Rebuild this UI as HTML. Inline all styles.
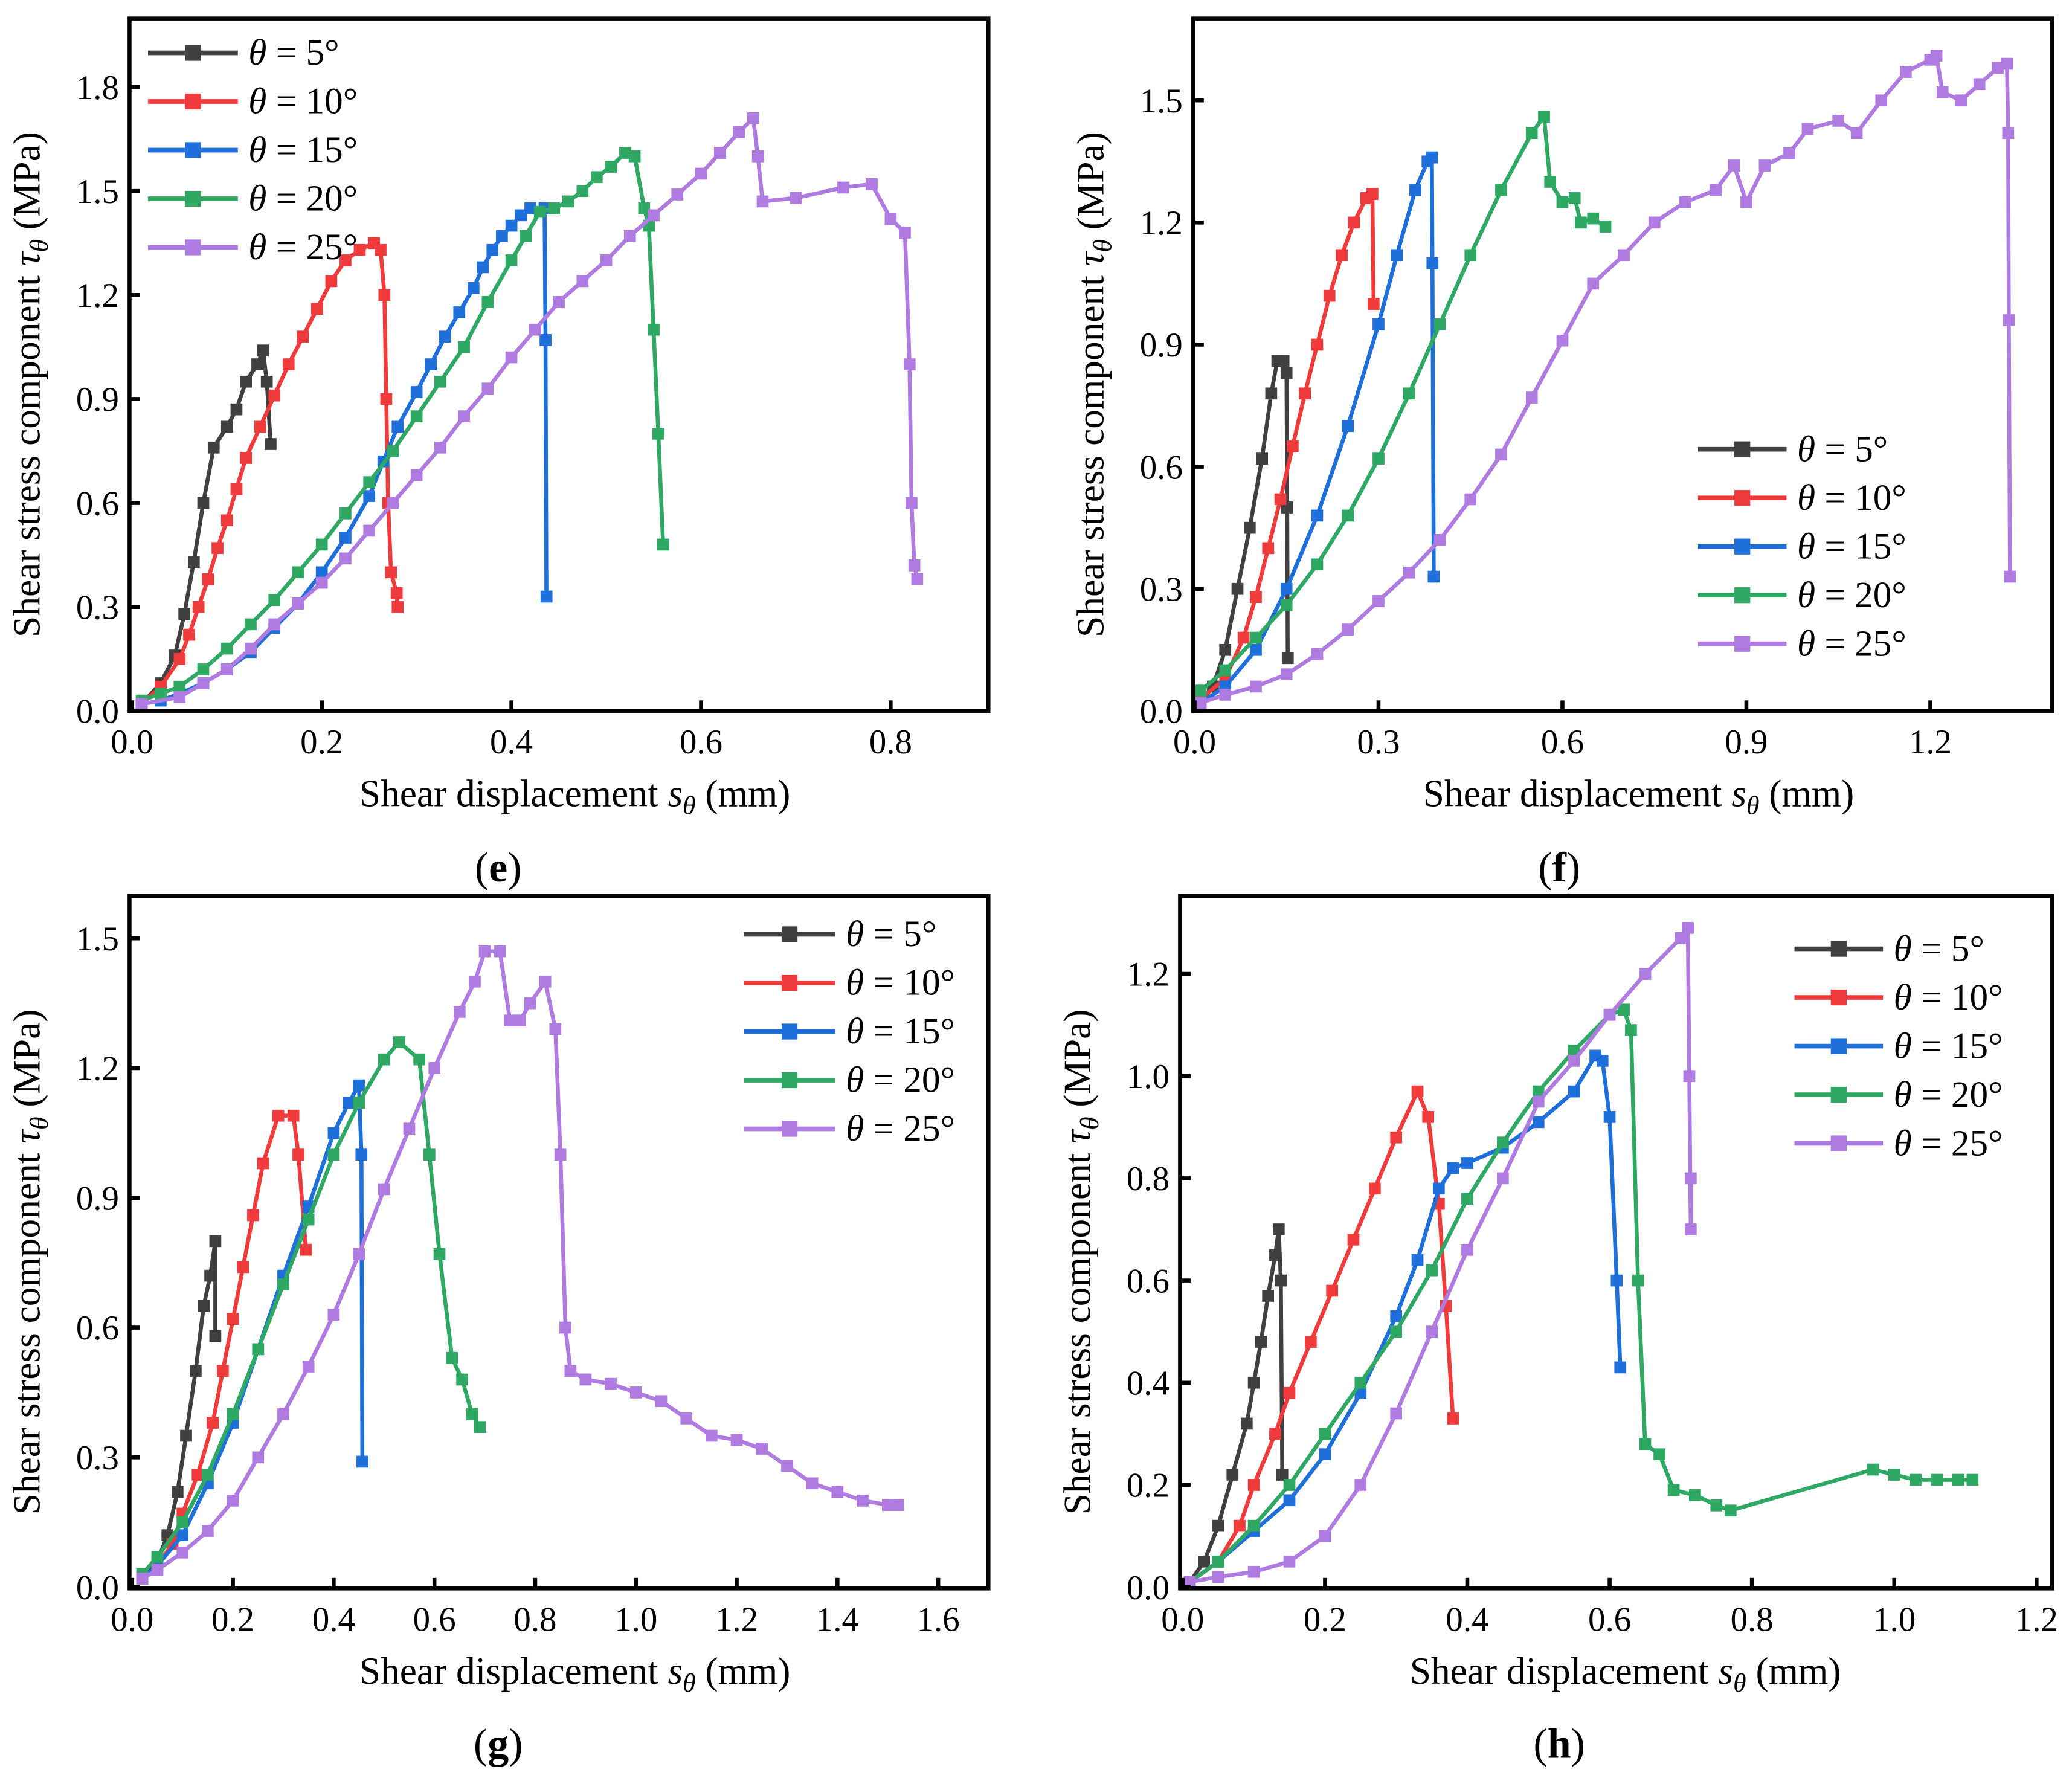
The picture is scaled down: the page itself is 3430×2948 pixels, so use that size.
<!DOCTYPE html>
<html><head><meta charset="utf-8"><style>
html,body{margin:0;padding:0;background:#fff;}
svg{display:block;font-family:"Liberation Serif",serif;}
</style></head><body>
<svg id="fig" width="3430" height="2948" viewBox="0 0 1568 1347.7" xmlns="http://www.w3.org/2000/svg"></svg>
<script>
// ---------- data ----------
const colors = ["#404040","#ef3b3b","#1e6fd9","#2fa863","#b07be0"];
const legendLabels = ["5°","10°","15°","20°","25°"];
const e_xticks=[0,0.2,0.4,0.6,0.8], e_yticks=[0,0.3,0.6,0.9,1.2,1.5,1.8];
const f_xticks=[0,0.3,0.6,0.9,1.2], f_yticks=[0,0.3,0.6,0.9,1.2,1.5];
const g_xticks=[0,0.2,0.4,0.6,0.8,1.0,1.2,1.4,1.6], g_yticks=[0,0.3,0.6,0.9,1.2,1.5];
const h_xticks=[0,0.2,0.4,0.6,0.8,1.0,1.2], h_yticks=[0,0.2,0.4,0.6,0.8,1.0,1.2];

const e5=[[0.01,0.02],[0.03,0.08],[0.045,0.16],[0.055,0.28],[0.065,0.43],[0.075,0.6],[0.086,0.76],[0.1,0.82],[0.11,0.87],[0.12,0.95],[0.132,1.0],[0.138,1.04],[0.142,0.95],[0.146,0.77]];
const e10=[[0.01,0.02],[0.03,0.07],[0.05,0.15],[0.06,0.22],[0.07,0.3],[0.08,0.38],[0.09,0.47],[0.1,0.55],[0.11,0.64],[0.12,0.73],[0.135,0.82],[0.15,0.91],[0.165,1.0],[0.18,1.08],[0.195,1.16],[0.21,1.24],[0.225,1.3],[0.24,1.33],[0.255,1.35],[0.262,1.33],[0.266,1.2],[0.268,0.9],[0.27,0.6],[0.273,0.4],[0.279,0.34],[0.28,0.3]];
const e15=[[0.01,0.02],[0.03,0.03],[0.05,0.05],[0.075,0.08],[0.1,0.12],[0.125,0.17],[0.15,0.24],[0.175,0.31],[0.2,0.4],[0.225,0.5],[0.25,0.62],[0.265,0.72],[0.28,0.82],[0.3,0.92],[0.315,1.0],[0.33,1.08],[0.345,1.15],[0.36,1.22],[0.37,1.28],[0.38,1.33],[0.39,1.37],[0.4,1.4],[0.41,1.43],[0.42,1.45],[0.435,1.45],[0.436,1.07],[0.437,0.33]];
const e20=[[0.01,0.03],[0.03,0.05],[0.05,0.07],[0.075,0.12],[0.1,0.18],[0.125,0.25],[0.15,0.32],[0.175,0.4],[0.2,0.48],[0.225,0.57],[0.25,0.66],[0.275,0.75],[0.3,0.85],[0.325,0.95],[0.35,1.05],[0.375,1.18],[0.4,1.3],[0.415,1.37],[0.43,1.44],[0.445,1.45],[0.46,1.47],[0.475,1.5],[0.49,1.54],[0.505,1.57],[0.52,1.61],[0.53,1.6],[0.54,1.45],[0.545,1.4],[0.55,1.1],[0.555,0.8],[0.56,0.48]];
const e25=[[0.01,0.02],[0.05,0.04],[0.075,0.08],[0.1,0.12],[0.125,0.18],[0.15,0.25],[0.175,0.31],[0.2,0.37],[0.225,0.44],[0.25,0.52],[0.275,0.6],[0.3,0.68],[0.325,0.76],[0.35,0.85],[0.375,0.93],[0.4,1.02],[0.425,1.1],[0.45,1.18],[0.475,1.24],[0.5,1.3],[0.525,1.37],[0.55,1.43],[0.575,1.49],[0.6,1.55],[0.62,1.61],[0.64,1.67],[0.655,1.71],[0.66,1.6],[0.665,1.47],[0.7,1.48],[0.75,1.51],[0.78,1.52],[0.8,1.42],[0.815,1.38],[0.82,1.0],[0.822,0.6],[0.825,0.42],[0.828,0.38]];

const f5=[[0.01,0.02],[0.03,0.06],[0.05,0.15],[0.07,0.3],[0.09,0.45],[0.11,0.62],[0.125,0.78],[0.135,0.86],[0.145,0.86],[0.15,0.83],[0.151,0.5],[0.152,0.13]];
const f10=[[0.01,0.03],[0.05,0.08],[0.08,0.18],[0.1,0.28],[0.12,0.4],[0.14,0.52],[0.16,0.65],[0.18,0.78],[0.2,0.9],[0.22,1.02],[0.24,1.12],[0.26,1.2],[0.28,1.26],[0.29,1.27],[0.292,1.0]];
const f15=[[0.01,0.02],[0.05,0.06],[0.1,0.15],[0.15,0.3],[0.2,0.48],[0.25,0.7],[0.3,0.95],[0.33,1.12],[0.36,1.28],[0.38,1.35],[0.387,1.36],[0.388,1.1],[0.39,0.33]];
const f20=[[0.01,0.05],[0.05,0.1],[0.1,0.18],[0.15,0.26],[0.2,0.36],[0.25,0.48],[0.3,0.62],[0.35,0.78],[0.4,0.95],[0.45,1.12],[0.5,1.28],[0.55,1.42],[0.57,1.46],[0.58,1.3],[0.6,1.25],[0.62,1.26],[0.63,1.2],[0.65,1.21],[0.67,1.19]];
const f25=[[0.01,0.02],[0.05,0.04],[0.1,0.06],[0.15,0.09],[0.2,0.14],[0.25,0.2],[0.3,0.27],[0.35,0.34],[0.4,0.42],[0.45,0.52],[0.5,0.63],[0.55,0.77],[0.6,0.91],[0.65,1.05],[0.7,1.12],[0.75,1.2],[0.8,1.25],[0.85,1.28],[0.88,1.34],[0.9,1.25],[0.93,1.34],[0.97,1.37],[1.0,1.43],[1.05,1.45],[1.08,1.42],[1.12,1.5],[1.16,1.57],[1.2,1.6],[1.21,1.61],[1.22,1.52],[1.25,1.5],[1.28,1.54],[1.31,1.58],[1.325,1.59],[1.327,1.42],[1.328,0.96],[1.33,0.33]];

const g5=[[0.02,0.02],[0.05,0.06],[0.07,0.12],[0.09,0.22],[0.107,0.35],[0.126,0.5],[0.142,0.65],[0.155,0.72],[0.165,0.8],[0.165,0.58]];
const g10=[[0.02,0.02],[0.05,0.05],[0.08,0.1],[0.1,0.17],[0.13,0.26],[0.16,0.38],[0.18,0.5],[0.2,0.62],[0.22,0.74],[0.24,0.86],[0.26,0.98],[0.29,1.09],[0.32,1.09],[0.33,1.0],[0.345,0.78]];
const g15=[[0.02,0.02],[0.05,0.05],[0.1,0.12],[0.15,0.24],[0.2,0.38],[0.25,0.55],[0.3,0.72],[0.35,0.88],[0.4,1.05],[0.43,1.12],[0.45,1.16],[0.455,1.0],[0.457,0.29]];
const g20=[[0.02,0.03],[0.05,0.07],[0.1,0.15],[0.15,0.26],[0.2,0.4],[0.25,0.55],[0.3,0.7],[0.35,0.85],[0.4,1.0],[0.45,1.12],[0.5,1.22],[0.53,1.26],[0.57,1.22],[0.59,1.0],[0.61,0.77],[0.635,0.53],[0.655,0.48],[0.675,0.4],[0.69,0.37]];
const g25=[[0.02,0.02],[0.05,0.04],[0.1,0.08],[0.15,0.13],[0.2,0.2],[0.25,0.3],[0.3,0.4],[0.35,0.51],[0.4,0.63],[0.45,0.77],[0.5,0.92],[0.55,1.06],[0.6,1.2],[0.65,1.33],[0.68,1.4],[0.7,1.47],[0.73,1.47],[0.75,1.31],[0.77,1.31],[0.79,1.35],[0.82,1.4],[0.84,1.29],[0.85,1.0],[0.86,0.6],[0.87,0.5],[0.9,0.48],[0.95,0.47],[1.0,0.45],[1.05,0.43],[1.1,0.39],[1.15,0.35],[1.2,0.34],[1.25,0.32],[1.3,0.28],[1.35,0.24],[1.4,0.22],[1.45,0.2],[1.5,0.19],[1.52,0.19]];

const h5=[[0.01,0.01],[0.03,0.05],[0.05,0.12],[0.07,0.22],[0.09,0.32],[0.1,0.4],[0.11,0.48],[0.12,0.57],[0.13,0.65],[0.135,0.7],[0.138,0.6],[0.14,0.22]];
const h10=[[0.01,0.01],[0.05,0.05],[0.08,0.12],[0.1,0.2],[0.13,0.3],[0.15,0.38],[0.18,0.48],[0.21,0.58],[0.24,0.68],[0.27,0.78],[0.3,0.88],[0.33,0.97],[0.345,0.92],[0.36,0.75],[0.37,0.55],[0.38,0.33]];
const h15=[[0.01,0.01],[0.05,0.05],[0.1,0.11],[0.15,0.17],[0.2,0.26],[0.25,0.38],[0.3,0.53],[0.33,0.64],[0.36,0.78],[0.38,0.82],[0.4,0.83],[0.45,0.86],[0.5,0.91],[0.55,0.97],[0.58,1.04],[0.59,1.03],[0.6,0.92],[0.61,0.6],[0.615,0.43]];
const h20=[[0.01,0.01],[0.05,0.05],[0.1,0.12],[0.15,0.2],[0.2,0.3],[0.25,0.4],[0.3,0.5],[0.35,0.62],[0.4,0.76],[0.45,0.87],[0.5,0.97],[0.55,1.05],[0.6,1.12],[0.62,1.13],[0.63,1.09],[0.64,0.6],[0.65,0.28],[0.67,0.26],[0.69,0.19],[0.72,0.18],[0.75,0.16],[0.77,0.15],[0.97,0.23],[1.0,0.22],[1.03,0.21],[1.06,0.21],[1.09,0.21],[1.11,0.21]];
const h25=[[0.01,0.01],[0.05,0.02],[0.1,0.03],[0.15,0.05],[0.2,0.1],[0.25,0.2],[0.3,0.34],[0.35,0.5],[0.4,0.66],[0.45,0.8],[0.5,0.95],[0.55,1.03],[0.6,1.12],[0.65,1.2],[0.7,1.27],[0.71,1.29],[0.712,1.0],[0.714,0.7],[0.714,0.8]];

// ---------- drawing ----------
const NS="http://www.w3.org/2000/svg";
const svg=document.getElementById('fig');
function mk(tag,attrs,parent){const el=document.createElementNS(NS,tag);for(const k in attrs)el.setAttribute(k,attrs[k]);(parent||svg).appendChild(el);return el;}

const panels=[
 {id:"e",box:[98,14,748,538],x0:100,xs:717.5,y0:538,ys:262.3,xt:e_xticks,yt:e_yticks,series:[e5,e10,e15,e20,e25],leg:[112,180,188,40],lab:[377,657],xc:435},
 {id:"f",box:[903,14,1553,538],x0:904,xs:464,y0:538,ys:308,xt:f_xticks,yt:f_yticks,series:[f5,f10,f15,f20,f25],leg:[1285,1352,1360,340],lab:[1180,657],xc:1240},
 {id:"g",box:[98,678,748,1202],x0:100,xs:381.25,y0:1201,ys:327.3,xt:g_xticks,yt:g_yticks,series:[g5,g10,g15,g20,g25],leg:[563,632,640,707],lab:[377,1320],xc:435},
 {id:"h",box:[893,678,1553,1202],x0:895,xs:538.5,y0:1201,ys:386.7,xt:h_xticks,yt:h_yticks,series:[h5,h10,h15,h20,h25],leg:[1358,1425,1433,718],lab:[1180,1320],xc:1230}
];

panels.forEach(p=>{
  const g=mk('g',{});
  
  
  const X=v=>p.x0+v*p.xs, Y=v=>p.y0-v*p.ys;
  const [L,T,R,B]=p.box;
  const clipId='clip'+p.id;
  const cp=mk('clipPath',{id:clipId},g);mk('rect',{x:L,y:T,width:R-L,height:B-T},cp);
  p.series.forEach((s,i)=>{
    const sg=mk('g',{'clip-path':'url(#'+clipId+')'},g);
    
    
    const pts=s.map(d=>X(d[0]).toFixed(1)+','+Y(d[1]).toFixed(1)).join(' ');
    mk('polyline',{points:pts,fill:'none',stroke:colors[i],'stroke-width':3,'stroke-linejoin':'round'},sg);
    s.forEach(d=>{
      const r=mk('rect',{x:X(d[0])-4.5,y:Y(d[1])-4.5,width:9,height:9,fill:colors[i]},sg);
      
      
    });
  });
  const fr=mk('rect',{x:L,y:T,width:R-L,height:B-T,fill:'none',stroke:'#000','stroke-width':3},g);
  
  
  p.xt.forEach(v=>{
    mk('line',{x1:X(v),x2:X(v),y1:B,y2:B-8,stroke:'#000','stroke-width':3},g);
    const t=mk('text',{x:X(v),y:B+32,'font-size':26,'text-anchor':'middle'},g);
    t.textContent=v.toFixed(1);
    
    
  });
  p.yt.forEach(v=>{
    mk('line',{x1:L,x2:L+8,y1:Y(v),y2:Y(v),stroke:'#000','stroke-width':3},g);
    const t=mk('text',{x:L-8,y:Y(v)+9,'font-size':26,'text-anchor':'end'},g);
    t.textContent=v.toFixed(1);
    
    
  });
  const xt=mk('text',{x:p.xc,y:B+72,'font-size':29,'text-anchor':'middle'},g);
  xt.innerHTML='Shear displacement <tspan font-style="italic">s</tspan><tspan font-style="italic" font-size="20" dy="6">θ</tspan><tspan dy="-6"> (mm)</tspan>';
  
  
  const cy=(T+B)/2+15;
  const yx=L-68;
  const yt=mk('text',{x:yx,y:cy,'font-size':29,'text-anchor':'middle',transform:'rotate(-90 '+yx+' '+cy+')'},g);
  yt.innerHTML='Shear stress component <tspan font-style="italic">τ</tspan><tspan font-style="italic" font-size="20" dy="6">θ</tspan><tspan dy="-6"> (MPa)</tspan>';
  
  
  const [lx1,lx2,tx,ly]=p.leg;
  const lg=mk('g',{},g);
  
  
  legendLabels.forEach((lab,i)=>{
    const yy=ly+i*36.8;
    const e=mk('g',{},lg);
    
    
    mk('line',{x1:lx1,x2:lx2,y1:yy,y2:yy,stroke:colors[i],'stroke-width':3.5},e);
    mk('rect',{x:(lx1+lx2)/2-6,y:yy-6,width:12,height:12,fill:colors[i]},e);
    const t=mk('text',{x:tx,y:yy+9,'font-size':28},e);
    t.innerHTML='<tspan font-style="italic">θ</tspan> = '+lab;
  });
  const pl=mk('text',{x:p.lab[0],y:p.lab[1]+10,'font-size':32,'text-anchor':'middle'},g);
  pl.innerHTML='(<tspan font-weight="bold">'+p.id+'</tspan>)';
  
  
});
</script>
</body></html>
